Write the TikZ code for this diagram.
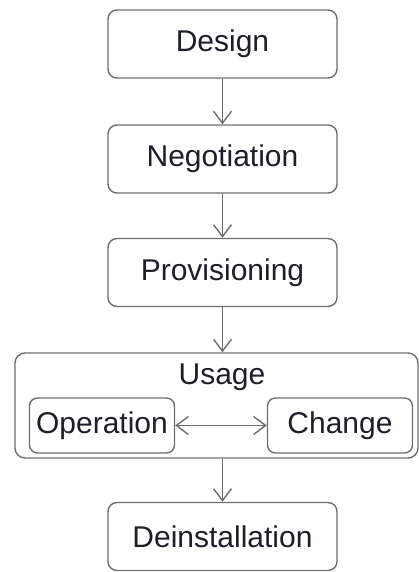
\documentclass[tikz,border=0pt]{standalone}
\usepackage{fontspec}
\setmainfont{Liberation Sans}
\usetikzlibrary{arrows.meta}
\definecolor{edge}{RGB}{110,110,110}
\definecolor{txt}{RGB}{30,30,40}
\begin{document}
\begin{tikzpicture}[x=1pt,y=-1pt,
  stage/.style={draw=edge,line width=1.4pt,rounded corners=9pt,
    minimum width=229pt,minimum height=68pt,inner sep=0pt,
    text=txt,font=\fontsize{30}{36}\selectfont},
  substage/.style={draw=edge,line width=1.4pt,rounded corners=8pt,
    minimum width=145pt,minimum height=55pt,inner sep=0pt,
    text=txt,font=\fontsize{30}{36}\selectfont},
  flow/.style={draw=edge,line width=1.4pt,
    -{Straight Barb[length=12pt,width=18pt,line width=1.4pt]}},
  twoway/.style={draw=edge,line width=1.4pt,
    {Straight Barb[length=12pt,width=18pt,line width=1.4pt]}-{Straight Barb[length=12pt,width=18pt,line width=1.4pt]}}]
\useasboundingbox (0,0) rectangle (419,572);

\node[stage] (design) at (222.5,44) {Design};
\node[stage] (nego) at (222.5,159) {Negotiation};
\node[stage] (prov) at (222.5,272.5) {Provisioning};

% Usage phase container with its two sub-stages
\node[draw=edge,line width=1.4pt,rounded corners=10pt,
  minimum width=403pt,minimum height=105pt,inner sep=0pt] (usage) at (216.5,405.5) {};
\node[text=txt,font=\fontsize{30}{36}\selectfont] (usagelbl) at (222,377) {Usage};
\node[substage] (oper) at (102,425.5) {Operation};
\node[substage] (change) at (340,425.5) {Change};

\node[stage] (deinst) at (222.5,536.5) {Deinstallation};

\draw[flow] (design) -- (nego);
\draw[flow] (nego) -- (prov);
\draw[flow] (prov.south) -- (prov.south |- usage.north);
\draw[twoway] (oper) -- (change);
\draw[flow] (usage.south -| deinst.north) -- (deinst.north);
\end{tikzpicture}
\end{document}
